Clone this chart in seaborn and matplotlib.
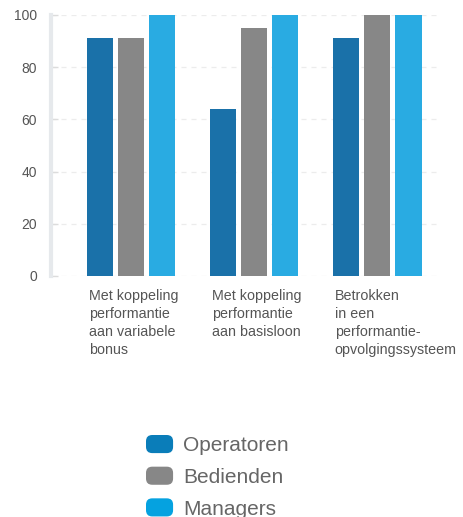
# -*- coding:utf-8 -*-

import pandas as pd
import matplotlib
matplotlib.use("Agg")
import matplotlib.pyplot as plt
import matplotlib.transforms as mtransforms
from matplotlib.legend_handler import HandlerPatch
from matplotlib.patches import FancyBboxPatch, Patch
import seaborn as sns

# Gegevens
categorieen = [
    "Met koppeling\nperformantie\naan variabele\nbonus",
    "Met koppeling\nperformantie\naan basisloon",
    "Betrokken\nin een\nperformantie-\nopvolgingssysteem",
]
groepen = ["Operatoren", "Bedienden", "Managers"]
operatoren = [91, 64, 91]
bedienden = [91, 95, 100]
managers = [100, 100, 100]

kleuren_balk = ["#1a71a9", "#878787", "#29abe2"]
kleuren_legende = ["#0a7db9", "#878787", "#05a2e0"]

sns.set_theme(style="white")
plt.rcParams["font.family"] = ["Liberation Sans", "DejaVu Sans"]


class RoundedHandler(HandlerPatch):
    """Afgeronde vierkantjes in de legende."""
    def create_artists(self, legend, orig_handle, xdescent, ydescent,
                       width, height, fontsize, trans):
        p = FancyBboxPatch((-xdescent, -ydescent), width, height,
                           boxstyle="round,pad=0,rounding_size=4.5",
                           facecolor=orig_handle.get_facecolor(),
                           edgecolor="none", transform=trans)
        return [p]


def main():
    rows = []
    for i, cat in enumerate(categorieen):
        for g, vals in zip(groepen, [operatoren, bedienden, managers]):
            rows.append({"categorie": cat, "groep": g, "waarde": vals[i]})
    df = pd.DataFrame(rows)

    fig = plt.figure(figsize=(4.64, 5.17), dpi=100)
    ax = fig.add_axes([0.11, 0.4662, 0.838, 0.505])

    breedte = 0.76
    sns.barplot(data=df, x="categorie", y="waarde", hue="groep",
                palette=kleuren_balk, width=breedte, gap=0.15,
                saturation=1, linewidth=0, legend=False, ax=ax, zorder=2)

    ax.set_ylim(0, 100)
    ax.set_xlim(-0.65, 2.51)
    ax.set_yticks(range(0, 101, 20))
    ax.yaxis.grid(True, linestyle=(0, (4, 4)), color="#ececec", linewidth=0.9, zorder=0)
    ax.set_axisbelow(True)
    ax.set_xlabel("")
    ax.set_ylabel("")

    for s in ["top", "right", "bottom"]:
        ax.spines[s].set_visible(False)
    ax.spines["left"].set_color("#e6e9ec")
    ax.spines["left"].set_linewidth(3)

    ax.tick_params(axis="y", direction="in", length=5, width=1, color="#dcdcdc",
                   labelsize=10, labelcolor="#555555", pad=10, left=True)
    ax.set_xticks([])

    # Categorielabels links uitgelijnd onder de groepen
    trans = mtransforms.blended_transform_factory(ax.transData, ax.transAxes)
    for i, cat in enumerate(categorieen):
        ax.text(i - breedte / 2 + 0.035, -0.048, cat, transform=trans, ha="left", va="top",
                fontsize=10.3, color="#555555", linespacing=1.38)

    handles = [Patch(facecolor=c, label=g) for c, g in zip(kleuren_legende, groepen)]
    fig.legend(handles=handles, loc="upper left",
               bbox_to_anchor=(146 / 464, (517 - 435) / 517),
               frameon=False, fontsize=15, borderpad=0, borderaxespad=0,
               handlelength=1.3, handleheight=0.96, handletextpad=0.5,
               labelspacing=0.55, labelcolor="#666666",
               handler_map={Patch: RoundedHandler()})

    fig.savefig("out.png", dpi=100)
    plt.close(fig)


if __name__ == "__main__":
    main()
